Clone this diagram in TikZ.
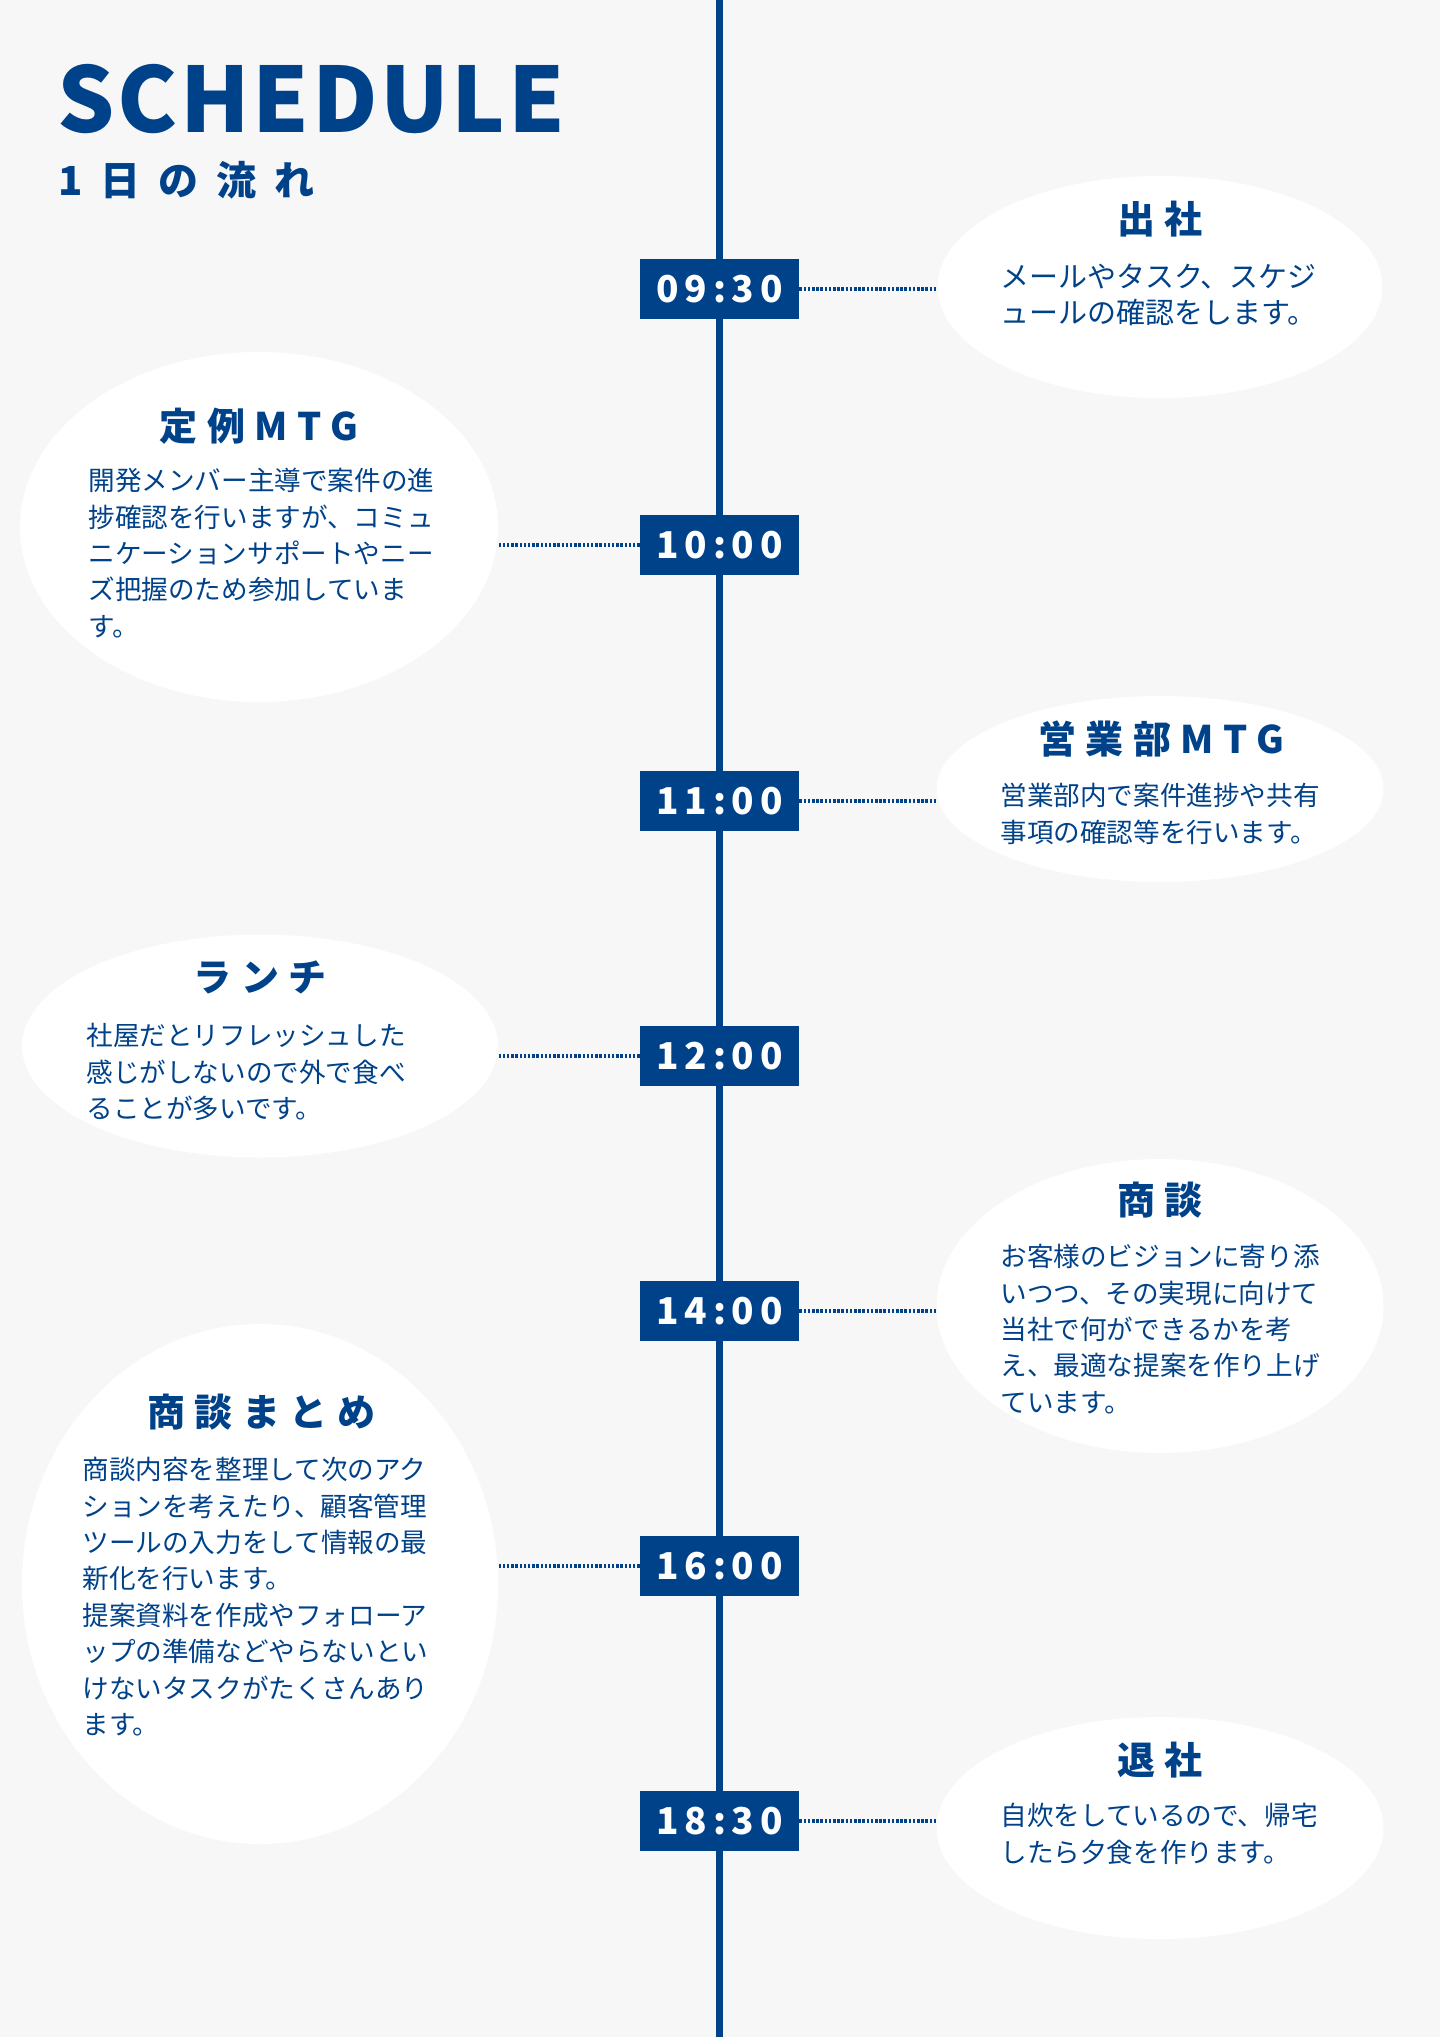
\documentclass[tikz,border=0pt]{standalone}
\usepackage{fontspec}
\usetikzlibrary{shapes.geometric}
\setmainfont{Noto Sans CJK JP}
\newfontfamily\bigfam[LetterSpace=3]{Noto Sans CJK JP}
\newfontfamily\subfam[LetterSpace=45]{Noto Sans CJK JP}
\newfontfamily\ttlfam[LetterSpace=25]{Noto Sans CJK JP}
\newfontfamily\numfam[LetterSpace=16]{Noto Sans CJK JP}
\definecolor{navy}{HTML}{00428A}
\definecolor{paper}{HTML}{F7F7F7}

\begin{document}
\begin{tikzpicture}[x=0.5pt,y=-0.5pt,
  timebox/.style={fill=navy,text=white,minimum width=79.5pt,minimum height=30pt,inner sep=0pt,
    font=\numfam\bfseries\fontsize{18.5}{20}\selectfont},
  bubble/.style={ellipse,fill=white,inner sep=0pt},
  ttl/.style={text=navy,inner sep=0pt,font=\ttlfam\bfseries\fontsize{19}{22}\selectfont},
  body/.style={text=navy,inner sep=0pt,anchor=north west,align=left,font=\fontsize{13.3}{18.2}\selectfont},
  dotline/.style={navy,line width=2pt,dash pattern=on 1.25pt off 0.85pt}]
\useasboundingbox (0,0) rectangle (1440,2037);
\fill[paper] (0,0) rectangle (1440,2037);
% axe du temps
\draw[navy,line width=3.5pt] (719.5,0) -- (719.5,2037);

% titre
\node[anchor=base west,inner sep=0pt,text=navy,font=\bigfam\bfseries\fontsize{45}{50}\selectfont] (head) at (57,133) {SCHEDULE};
\node[anchor=base west,inner sep=0pt,text=navy,font=\subfam\bfseries\fontsize{20}{24}\selectfont] (sub) at (58,196) {1日の流れ};

% bulles
\node[bubble,minimum width=222.5pt,minimum height=111pt] (b1) at (1160,287) {};
\node[bubble,minimum width=239pt,minimum height=175pt] (b2) at (259,527) {};
\node[bubble,minimum width=223.5pt,minimum height=93pt] (b3) at (1160,789) {};
\node[bubble,minimum width=238pt,minimum height=111.5pt] (b4) at (260,1046) {};
\node[bubble,minimum width=223.5pt,minimum height=147pt] (b5) at (1160,1306) {};
\node[bubble,minimum width=238pt,minimum height=260pt] (b6) at (260,1584) {};
\node[bubble,minimum width=223.5pt,minimum height=111pt] (b7) at (1160,1828) {};

% horaires
\foreach \h/\y/\n in {09:30/289/t1,10:00/545/t2,11:00/801/t3,12:00/1056/t4,14:00/1311/t5,16:00/1566/t6,18:30/1821/t7}
  \node[timebox] (\n) at (719.5,\y) {\h};

\draw[dotline] (t1.east) -- (t1.east -| b1.west);
\draw[dotline] (t2.west) -- (t2.west -| b2.east);
\draw[dotline] (t3.east) -- (t3.east -| b3.west);
\draw[dotline] (t4.west) -- (t4.west -| b4.east);
\draw[dotline] (t5.east) -- (t5.east -| b5.west);
\draw[dotline] (t6.west) -- (t6.west -| b6.east);
\draw[dotline] (t7.east) -- (t7.east -| b7.west);

% textes
\node[ttl] (h1) at (1160,219) {出社};
\node[body,font=\fontsize{14.5}{18.2}\selectfont] (d1) at (1000,263) {メールやタスク、スケジ\\ュールの確認をします。};

\node[ttl] (h2) at (259,426) {定例MTG};
\node[body] (d2) at (88,468) {開発メンバー主導で案件の進\\捗確認を行いますが、コミュ\\ニケーションサポートやニー\\ズ把握のため参加していま\\す。};

\node[ttl] (h3) at (1161,739) {営業部MTG};
\node[body] (d3) at (1000,783) {営業部内で案件進捗や共有\\事項の確認等を行います。};

\node[ttl] (h4) at (260,977) {ランチ};
\node[body] (d4) at (86,1023) {社屋だとリフレッシュした\\感じがしないので外で食べ\\ることが多いです。};

\node[ttl] (h5) at (1160,1200) {商談};
\node[body] (d5) at (1000,1244) {お客様のビジョンに寄り添\\いつつ、その実現に向けて\\当社で何ができるかを考\\え、最適な提案を作り上げ\\ています。};

\node[ttl] (h6) at (261,1412) {商談まとめ};
\node[body] (d6) at (82,1457) {商談内容を整理して次のアク\\ションを考えたり、顧客管理\\ツールの入力をして情報の最\\新化を行います。\\提案資料を作成やフォローア\\ップの準備などやらないとい\\けないタスクがたくさんあり\\ます。};

\node[ttl] (h7) at (1160,1760) {退社};
\node[body] (d7) at (1000,1803) {自炊をしているので、帰宅\\したら夕食を作ります。};
\end{tikzpicture}
\end{document}
